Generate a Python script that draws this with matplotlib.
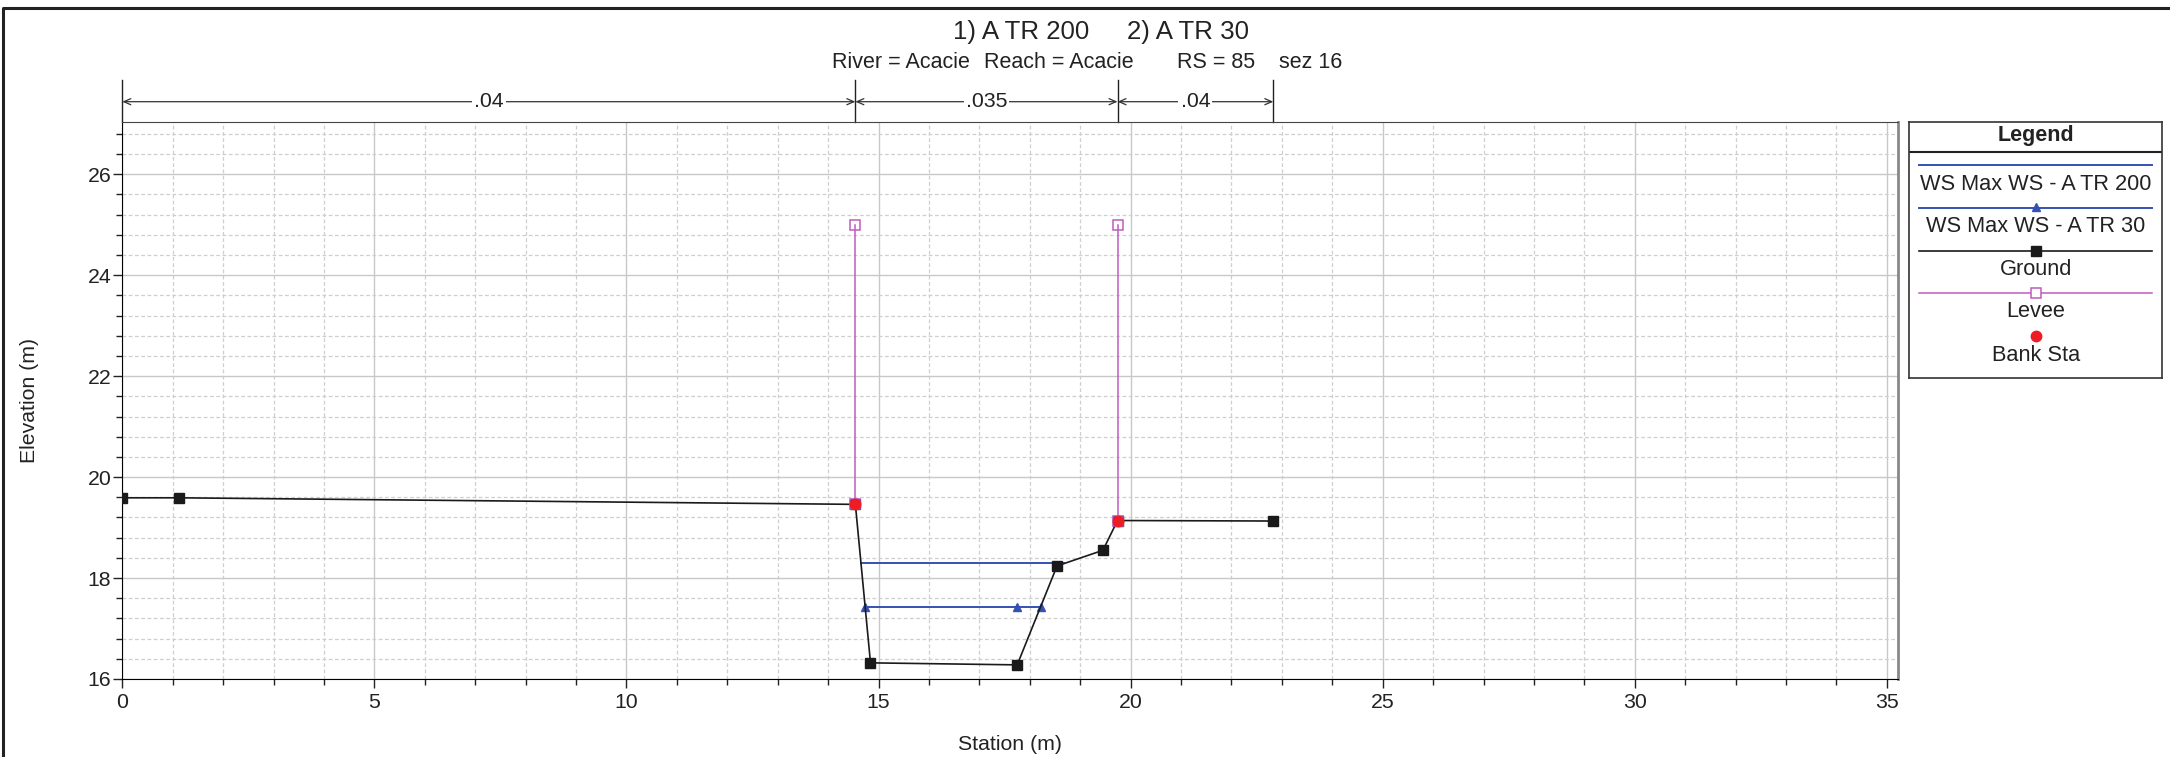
import matplotlib.pyplot as plt
from matplotlib.lines import Line2D
from matplotlib.ticker import MultipleLocator
from matplotlib.transforms import blended_transform_factory

plt.rcParams['font.family'] = ['Liberation Sans', 'DejaVu Sans']

W, H = 2170, 757

# ground profile (station, elevation)
ground_sta = [0.0, 1.13, 14.54, 14.84, 17.75, 18.54, 19.45, 19.74, 22.83]
ground_elev = [19.59, 19.59, 19.46, 16.32, 16.28, 18.24, 18.55, 19.14, 19.13]

# water surfaces
ws200_sta = [14.65, 18.68]
ws200_elev = [18.30, 18.30]
ws30_sta = [14.74, 17.75, 18.22]
ws30_elev = [17.43, 17.43, 17.43]

# levees
levee_l_sta = [14.54, 14.54]
levee_l_elev = [19.46, 25.0]
levee_r_sta = [19.74, 19.74]
levee_r_elev = [19.14, 25.0]

# bank stations
bank_sta = [14.54, 19.74]
bank_elev = [19.46, 19.14]

# manning's n
n_breaks = [0.0, 14.54, 19.74, 22.83]
n_values = ['.04', '.035', '.04']

title_parts = ['1) A TR 200', '2) A TR 30']
subtitle_parts = ['River = Acacie', 'Reach = Acacie', 'RS = 85', 'sez 16']
legend_labels = ['WS Max WS - A TR 200', 'WS Max WS - A TR 30', 'Ground', 'Levee', 'Bank Sta']

C_WS = '#3651b4'
C_GROUND = '#1a1a1a'
C_LEVEE = '#c05cc0'
C_BANK = '#ee1c25'
C_TEXT = '#222222'

fig = plt.figure(figsize=(W / 100, H / 100), dpi=100)


def fx(px):
    return px / W


def fy(py):
    return 1 - py / H


# main axes
ax = fig.add_axes([fx(122.3), fy(679), fx(1898) - fx(122.3), fy(122.3) - fy(679)])

ax.plot(ws200_sta, ws200_elev, color=C_WS, lw=1.4, zorder=3)
ax.plot(ws30_sta, ws30_elev, color=C_WS, lw=1.4, marker='^', ms=5.5, zorder=3)
ax.plot(ground_sta, ground_elev, color=C_GROUND, lw=1.2, marker='s', ms=6.5, zorder=4)
for s, e in [(levee_l_sta, levee_l_elev), (levee_r_sta, levee_r_elev)]:
    ax.plot(s, e, color=C_LEVEE, lw=1.1, marker='s', ms=6.5, mfc='none', mec=C_LEVEE,
            mew=1.1, zorder=5)
ax.plot(bank_sta, bank_elev, ls='none', marker='o', ms=7.5, color=C_BANK, zorder=6)

ax.set_xlim(0, 35.22)
ax.set_ylim(16, 27.03)
ax.xaxis.set_major_locator(MultipleLocator(5))
ax.xaxis.set_minor_locator(MultipleLocator(1))
ax.yaxis.set_major_locator(MultipleLocator(2))
ax.yaxis.set_minor_locator(MultipleLocator(0.4))
ax.grid(which='major', color='#c8c8c8', lw=1.0, ls='-')
ax.grid(which='minor', color='#cfcfcf', lw=0.9, ls=(0, (3, 2)))
ax.set_axisbelow(True)
ax.tick_params(which='major', length=6.5, width=1, color='#222', labelsize=15.3,
               labelcolor=C_TEXT)
ax.tick_params(which='minor', length=4.3, width=1, color='#222')
ax.tick_params(axis='x', which='major', pad=3.5)
ax.tick_params(axis='y', which='major', pad=1.5)
ax.spines['top'].set_color('#444')
ax.spines['right'].set_color('#888')
ax.spines['right'].set_linewidth(2)
ax.set_xlabel('Station (m)', fontsize=15.3, color=C_TEXT, labelpad=17)
ax.set_ylabel('Elevation (m)', fontsize=15.3, color=C_TEXT, labelpad=35)

# manning's n bar above the plot
trans = blended_transform_factory(ax.transData, ax.transAxes)
y_arr = 1.037
for x in n_breaks:
    ax.plot([x, x], [1.0, 1.076], transform=trans, color='#222', lw=1.0, clip_on=False)
for x0, x1, n in zip(n_breaks[:-1], n_breaks[1:], n_values):
    ax.annotate('', xy=(x1, y_arr), xytext=(x0, y_arr), xycoords=trans, textcoords=trans,
                arrowprops=dict(arrowstyle='<->,head_length=0.5,head_width=0.22',
                                color='#333', lw=0.9, shrinkA=0, shrinkB=0),
                annotation_clip=False)
    ax.text((x0 + x1) / 2, y_arr, n, transform=trans, ha='center', va='center',
            fontsize=15.3, color=C_TEXT, zorder=10,
            bbox=dict(fc='white', ec='none', pad=1.5))

# titles
for xpx, t in zip([953, 1127], title_parts):
    fig.text(fx(xpx), fy(32), t, ha='left', va='center', fontsize=18.6, color=C_TEXT)
for xpx, t in zip([832, 984, 1177, 1279], subtitle_parts):
    fig.text(fx(xpx), fy(63), t, ha='left', va='center', fontsize=15.5, color=C_TEXT)

# legend box
lg = fig.add_axes([fx(1909), fy(378.3), fx(2161.7) - fx(1909), fy(122.3) - fy(378.3)])
lg.set_xlim(1909, 2161.7)
lg.set_ylim(378.3, 122.3)
lg.set_xticks([])
lg.set_yticks([])
for sp in lg.spines.values():
    sp.set_color('#333')
    sp.set_linewidth(1.2)
lg.axhline(152.3, color='#222', lw=1.5)
lg.text(2035.7, 136, 'Legend', ha='center', va='center', fontsize=15.5,
        fontweight='bold', color=C_TEXT)
xl = [1919.3, 2152.3]
xc = 2035.7
lg.plot(xl, [165, 165], color=C_WS, lw=1.4)
lg.plot(xl, [208, 208], color=C_WS, lw=1.4)
lg.plot([xc], [206.5], marker='^', ms=5.5, color=C_WS)
lg.plot(xl, [250.7, 250.7], color=C_GROUND, lw=1.2)
lg.plot([xc], [250.7], marker='s', ms=6.5, color=C_GROUND)
lg.plot(xl, [293, 293], color=C_LEVEE, lw=1.1)
lg.plot([xc], [293], marker='s', ms=6.5, mfc='white', mec=C_LEVEE, mew=1.1)
lg.plot([xc], [336], marker='o', ms=7.5, color=C_BANK)
for y, lab in zip([184, 226.7, 269, 311.7, 355], legend_labels):
    lg.text(xc, y, lab, ha='center', va='center', fontsize=15.7, color=C_TEXT)

# outer frame (top and left edges)
fig.add_artist(Line2D([fx(2.5), fx(2.5), 1.0], [0.0, fy(8), fy(8)],
                      transform=fig.transFigure, color='#222', lw=2.2))

fig.savefig('out.png', dpi=100)
